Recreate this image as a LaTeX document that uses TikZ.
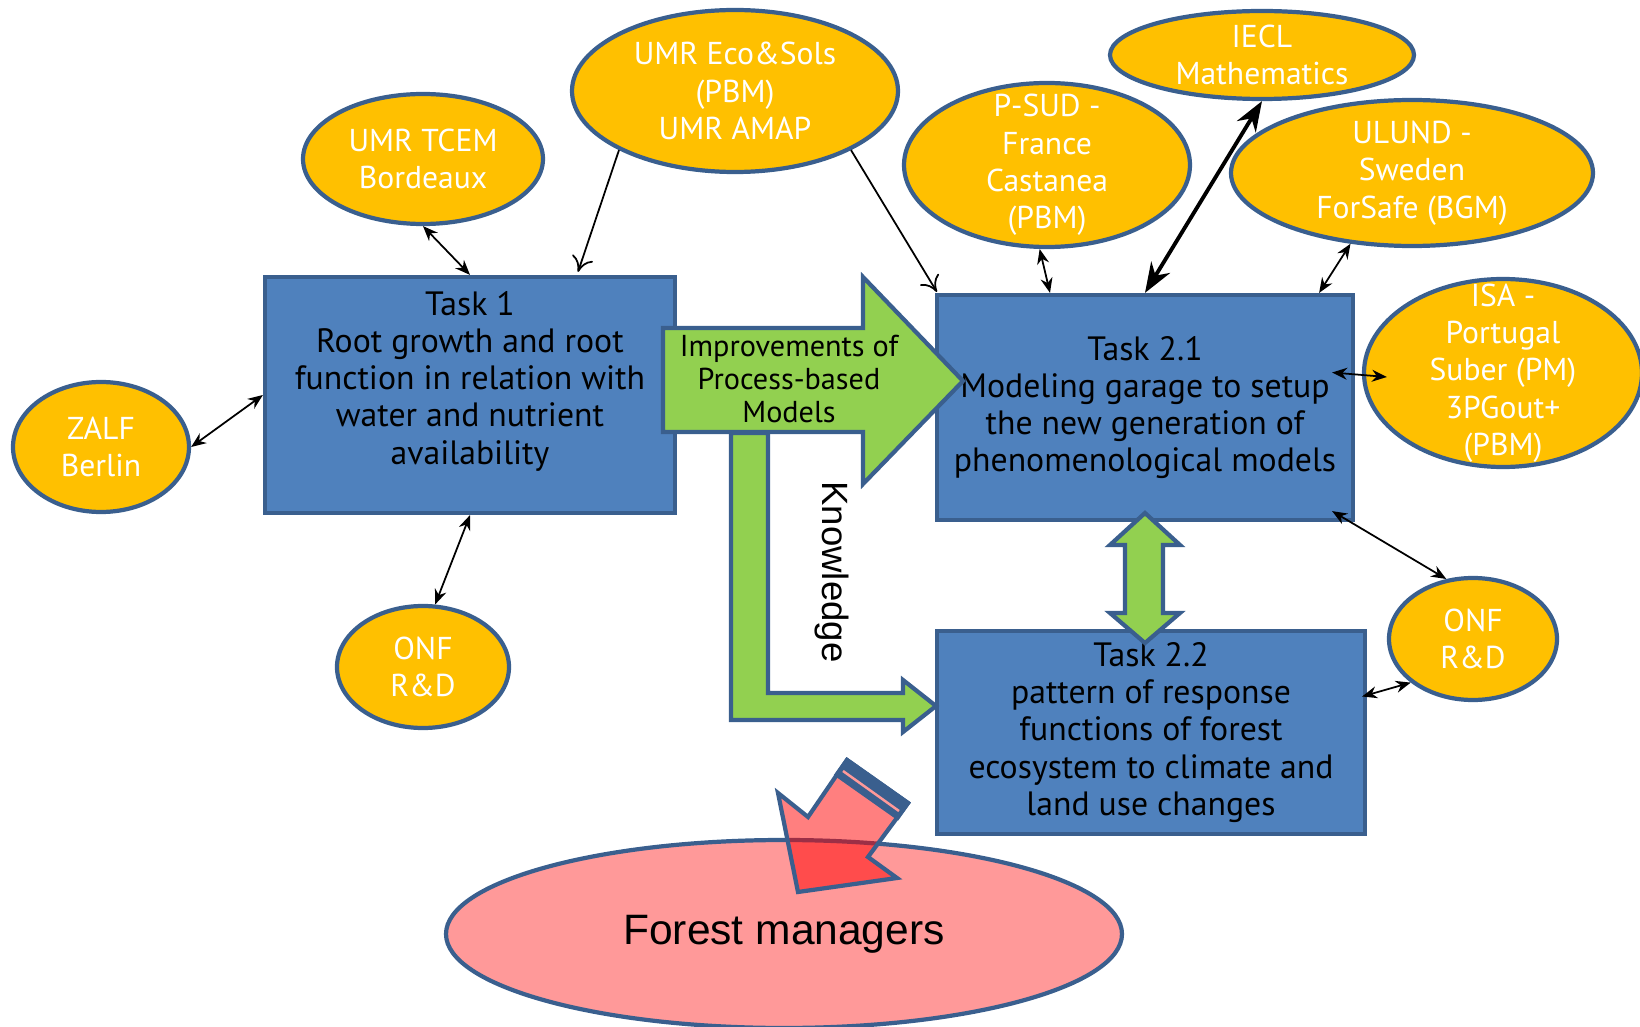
\documentclass[tikz,border=0pt]{standalone}
\usepackage{fontspec}
\setmainfont{PT Sans}
\newfontfamily\arialfont{Liberation Sans}
\usepackage{tikz}
\usetikzlibrary{arrows.meta,positioning,shapes.geometric,calc}

\definecolor{boxblue}{HTML}{4F81BD}
\definecolor{edgeblue}{HTML}{3A5F8E}
\definecolor{partneryellow}{HTML}{FFC000}
\definecolor{arrowgreen}{HTML}{92D050}
\definecolor{managerpink}{HTML}{FF9999}

\begin{document}
\begin{tikzpicture}[x=0.1mm,y=-0.1mm,
	>={Stealth[length=1.5mm,width=1.2mm]},
	task/.style={rectangle,draw=edgeblue,fill=boxblue,line width=1.2pt,align=center,font=\fontsize{9.6}{10.6}\selectfont},
	partner/.style={ellipse,draw=edgeblue,fill=partneryellow,line width=1.2pt,inner sep=-20pt,align=center,text=white,font=\fontsize{9}{10.6}\selectfont},
	link/.style={<->,line width=0.5pt},
	feed/.style={-{To[length=1.5mm,width=2.2mm]},line width=0.5pt},
	blockarrow/.style={draw=edgeblue,fill=arrowgreen,line width=1.2pt,line join=miter}]
	\useasboundingbox (0,0) rectangle (1640,1027);

	\begin{scope}
		\node[task,minimum width=41mm,minimum height=23.6mm] (Task1) at (470,395) {};
		\node[align=center,font=\fontsize{9.6}{10.6}\selectfont] (Task1text) at (470,381) {Task 1\\Root growth and root\\function in relation with\\water and nutrient\\availability};
		\node[task,minimum width=41.6mm,minimum height=22.5mm] (Task21) at (1145,407.5) {Task 2.1\\Modeling garage to setup\\the new generation of\\phenomenological models};
		\node[task,minimum width=42.8mm,minimum height=19.3mm] (Task22) at (1151,732.5) {Task 2.2\\pattern of response\\functions of forest\\ecosystem to climate and\\land use changes};

		\node[partner,minimum width=17.6mm,minimum height=13mm] (ZALF) at (101,447) {ZALF\\Berlin};
		\node[partner,minimum width=24mm,minimum height=13mm] (TCEM) at (423,159) {UMR TCEM\\Bordeaux};
		\node[partner,minimum width=32.6mm,minimum height=16.2mm] (EcoSols) at (735,91) {UMR Eco\&Sols\\(PBM)\\UMR AMAP};
		\node[partner,minimum width=28.6mm,minimum height=16.4mm] (PSUD) at (1047,165) {P-SUD -\\France\\Castanea\\(PBM)};
		\node[partner,minimum width=30.4mm,minimum height=8.8mm] (IECL) at (1262,55) {IECL\\Mathematics};
		\node[partner,minimum width=36.2mm,minimum height=14.6mm] (ULUND) at (1412,173) {ULUND -\\Sweden\\ForSafe (BGM)};
		\node[partner,minimum width=27.8mm,minimum height=18.8mm] (ISA) at (1503,373) {ISA -\\Portugal\\Suber (PM)\\3PGout+\\(PBM)};
		\node[partner,minimum width=17.2mm,minimum height=12.2mm] (ONF1) at (423,667) {ONF\\R\&D};
		\node[partner,minimum width=16.8mm,minimum height=12.2mm] (ONF2) at (1473,639) {ONF\\R\&D};

		\node[ellipse,draw=edgeblue,fill=managerpink,line width=1.2pt,minimum width=67.6mm,minimum height=18.8mm,font=\arialfont\fontsize{12.1}{14}\selectfont] (Managers) at (784,934) {Forest managers};
	\end{scope}

	\draw[blockarrow] (731,433) -- (768,433) -- (768,693) -- (903,693) -- (903,680) -- (936,706) -- (903,732) -- (903,720) -- (731,720) -- cycle;
	\draw[blockarrow] (663,328) -- (863,328) -- (863,277) -- (963,381) -- (863,484) -- (863,432) -- (663,432) -- cycle;
	\node[font=\fontsize{8.6}{9.3}\selectfont,align=center] (improve) at (789,379) {Improvements of\\Process-based\\Models};
	\node[font=\arialfont\fontsize{10.4}{12}\selectfont,rotate=-90] (know) at (832,572) {Knowledge};

	\draw[blockarrow] (1145,513) -- (1180,545) -- (1163,545) -- (1163,613) -- (1180,613) -- (1145,643) -- (1110,613) -- (1125,613) -- (1125,545) -- (1110,545) -- cycle;

	\draw[draw=edgeblue,line width=1.2pt,fill=red,fill opacity=0.5,line join=miter] (798,892) -- (778,793) -- (808,817) -- (847,760) -- (908,803) -- (868,857) -- (897,878) -- cycle;
	\draw[draw=edgeblue,fill=edgeblue,line width=1.2pt,line join=miter] (847,760) -- (908,803) -- (897.6,817.7) -- (836.6,774.7) -- cycle;
	\draw[managerpink,line width=0.7pt] (843,771) -- (899,811);

	\begin{scope}
		\draw[link] (ZALF.east) -- (Task1.west);
		\draw[link] (TCEM.south) -- (Task1.north);
		\draw[link] (ONF1.79) -- (Task1.south);
		\draw[feed] (EcoSols.207) -- ($(Task1.north)+(108,-3)$);
		\draw[feed] (EcoSols.333) -- ($(Task21.north west)+(2,-1)$);
		\draw[link] (PSUD.265) -- ($(Task21.north)+(-95,0)$);
		\draw[<->,line width=1.1pt,>={Stealth[length=3mm,width=2.2mm]}] (IECL.south) -- (Task21.north);
		\draw[link] (ULUND.229) -- ($(Task21.north east)+(-36,0)$);
		\draw[link] ($(Task21.east)+(-23,-35)$) -- ($(ISA.west)+(25,4)$);
		\draw[link] ($(Task21.south east)+(-23,-11)$) -- (ONF2.114);
		\draw[link] ($(Task22.east)+(-5,-36)$) -- (ONF2.215);
	\end{scope}
\end{tikzpicture}
\end{document}
